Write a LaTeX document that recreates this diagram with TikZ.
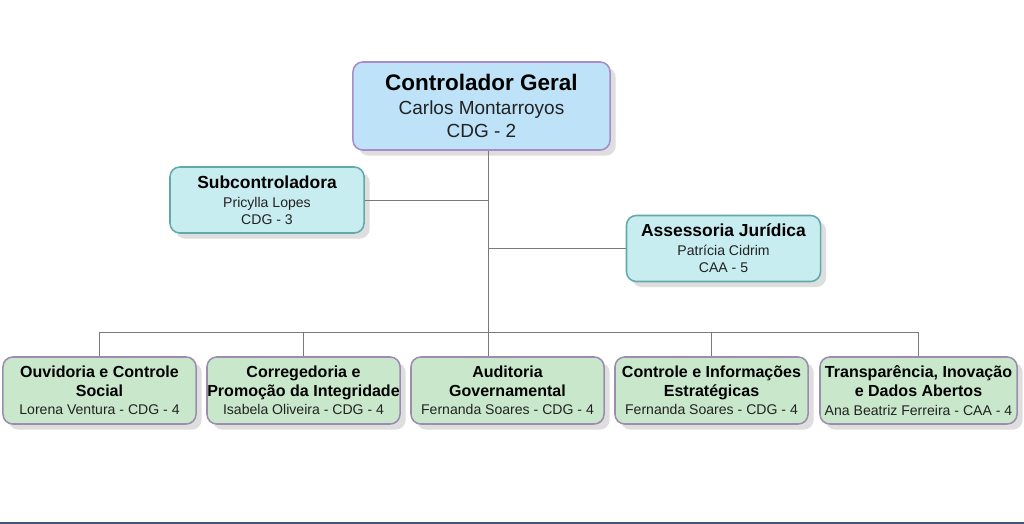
\documentclass[tikz,border=0pt]{standalone}
\usepackage{fontspec}
\setmainfont{Liberation Sans}
\usepackage{xcolor}
\usetikzlibrary{shadows}
\definecolor{cblue}{HTML}{BEE2F7}
\definecolor{cpurple}{HTML}{A88BC9}
\definecolor{ccyan}{HTML}{C8EDF0}
\definecolor{cteal}{HTML}{62A9A9}
\definecolor{cgreen}{HTML}{C9E8CB}
\definecolor{cgrape}{HTML}{9D8BB0}
\definecolor{cline}{HTML}{7A7A7A}
\definecolor{cname}{HTML}{222222}
\definecolor{cbar}{HTML}{3E5A78}
\newcommand{\unithead}{\fontsize{11.4}{13.3}\selectfont\bfseries}
\newcommand{\unitname}{\fontsize{10}{13.3}\selectfont\color{cname}}

\begin{document}
\begin{tikzpicture}[x=0.025cm, y=-0.025cm,
  box/.style={rounded corners=7pt, line width=1.1pt, align=center, inner sep=0pt,
    drop shadow={shadow xshift=4pt, shadow yshift=-4pt, fill=black!13, opacity=1}},
  headbox/.style={box, fill=cblue, draw=cpurple, minimum width=6.425cm, minimum height=2.2cm,
    font=\fontsize{13.5}{16.6}\selectfont},
  sidebox/.style={box, fill=ccyan, draw=cteal, minimum width=4.85cm, minimum height=1.65cm,
    font=\fontsize{10}{12}\selectfont},
  unitbox/.style={box, fill=cgreen, draw=cgrape, minimum width=4.825cm, minimum height=1.675cm,
    font=\fontsize{10}{13.3}\selectfont},
  link/.style={draw=cline, line width=0.6pt}]
\useasboundingbox (0,0) rectangle (1024,524);
\fill[white] (0,0) rectangle (1024,524);
\fill[cbar] (0,521.5) rectangle (1024,524);

% head and staff
\node[headbox] (ctrl) at (481.5,106)
  {{\fontsize{16}{16.6}\selectfont\bfseries Controlador Geral}\\[0.6pt]
   {\color{cname}Carlos Montarroyos}\\
   {\color{cname}CDG - 2}};
\node[sidebox] (subc) at (267,200)
  {{\fontsize{12.4}{12}\selectfont\bfseries Subcontroladora}\\[1.5pt]
   {\color{cname}Pricylla Lopes}\\
   {\color{cname}CDG - 3}};
\node[sidebox] (assj) at (723.5,248.5)
  {{\fontsize{12.4}{12}\selectfont\bfseries Assessoria Jurídica}\\[1.5pt]
   {\color{cname}Patrícia Cidrim}\\
   {\color{cname}CAA - 5}};

% units
\node[unitbox] (ouvi) at (99.5,390.5)
  {{\unithead Ouvidoria e Controle}\\{\unithead Social}\\
   {\unitname Lorena Ventura - CDG - 4}};
\node[unitbox] (corr) at (303.5,390.5)
  {{\unithead Corregedoria e}\\{\unithead Promoção da Integridade}\\
   {\unitname Isabela Oliveira - CDG - 4}};
\node[unitbox] (audi) at (507.5,390.5)
  {{\unithead Auditoria}\\{\unithead Governamental}\\
   {\unitname Fernanda Soares - CDG - 4}};
\node[unitbox] (cies) at (711.5,390.5)
  {{\unithead Controle e Informações}\\{\unithead Estratégicas}\\
   {\unitname Fernanda Soares - CDG - 4}};
\node[unitbox, minimum width=4.925cm] (tida) at (918.5,390.5)
  {{\unithead Transparência, Inovação}\\{\unithead e Dados Abertos}\\
   {\unitname Ana Beatriz Ferreira - CAA - 4}};

% connectors
\coordinate (trunk) at (488,332);
\draw[link] (ctrl.south -| trunk) -- (audi.north -| trunk);
\draw[link] (subc.east) -- (subc.east -| trunk);
\draw[link] (assj.west) -- (assj.west -| trunk);
\draw[link] (ouvi.north |- trunk) -- (tida.north |- trunk);
\foreach \n in {ouvi,corr,cies,tida}
  \draw[link] (\n.north |- trunk) -- (\n.north);
\end{tikzpicture}
\end{document}
